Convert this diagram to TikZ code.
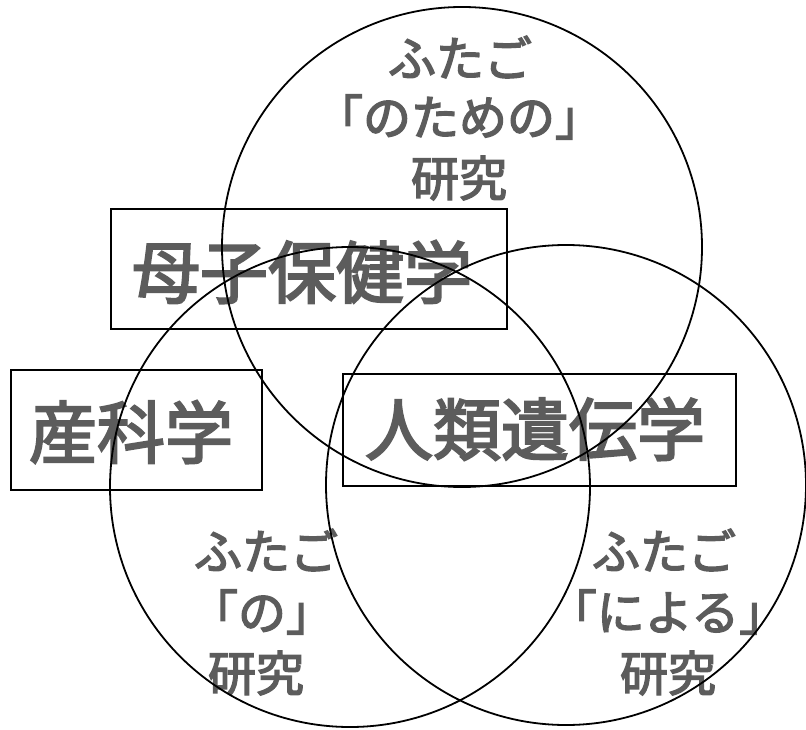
\documentclass[tikz,border=0pt]{standalone}
\usepackage{fontspec}
\newfontfamily\jp[FakeBold=3]{Noto Sans CJK JP}
\begin{document}
\begin{tikzpicture}[x=1pt,y=-1pt,
  ring/.style={circle, draw, line width=1.8pt, minimum size=480pt, inner sep=0pt},
  framebox/.style={draw, line width=1.5pt, inner sep=0pt},
  bigtxt/.style={inner sep=0pt, text=black!64, font=\jp\fontsize{68}{68}\selectfont},
  smalltxt/.style={inner sep=0pt, text=black!64, font=\jp\fontsize{48}{48}\selectfont}]
\useasboundingbox (0,0) rectangle (806,730);
\fill[white] (0,0) rectangle (806,730);

% texts
\node[bigtxt] (t1) at (302,272) {母子保健学};
\node[bigtxt] (t2) at (131,432) {産科学};
\node[bigtxt] (t3) at (535,429) {人類遺伝学};

\node[smalltxt] (a1) at (460,57) {ふたご};
\node[smalltxt] (a2) at (459,117) {「のための」};
\node[smalltxt] (a3) at (459,178) {研究};

\node[smalltxt] (b1) at (266,550) {ふたご};
\node[smalltxt] (b2) at (262,612) {「の」};
\node[smalltxt] (b3) at (256,673) {研究};

\node[smalltxt] (c1) at (664,550) {ふたご};
\node[smalltxt] (c2) at (668,612) {「による」};
\node[smalltxt] (c3) at (668,673) {研究};

% boxes
\node[framebox, minimum width=396pt, minimum height=120pt] (f1) at (309,269) {};
\node[framebox, minimum width=251pt, minimum height=120pt] (f2) at (136.5,430) {};
\node[framebox, minimum width=393pt, minimum height=112pt] (f3) at (539.5,430) {};

% circles
\node[ring] (r1) at (462,247) {};
\node[ring] (r2) at (350,487) {};
\node[ring] (r3) at (566,485) {};
\end{tikzpicture}
\end{document}
